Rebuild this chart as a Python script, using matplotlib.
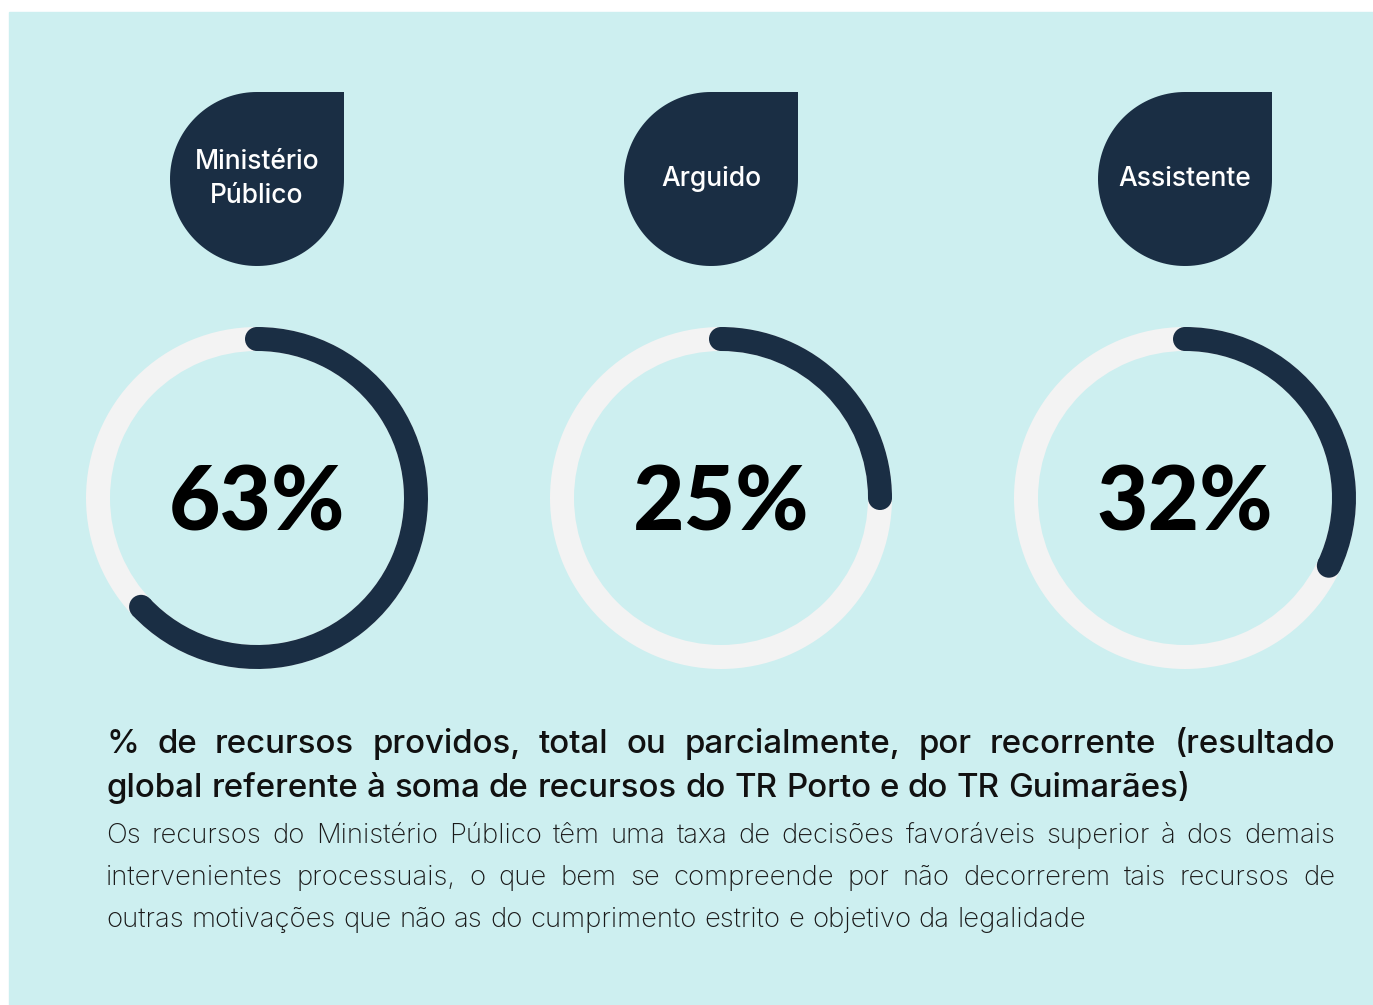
import numpy as np
import matplotlib
matplotlib.use('Agg')
import matplotlib.pyplot as plt
from matplotlib.patches import Wedge, Circle, Polygon, Rectangle

# data
labels = ['Ministério\nPúblico', 'Arguido', 'Assistente']
values = [63, 25, 32]

title_lines = ['% de recursos providos, total ou parcialmente, por recorrente (resultado',
               'global referente à soma de recursos do TR Porto e do TR Guimarães)']
body_lines = ['Os recursos do Ministério Público têm uma taxa de decisões favoráveis superior à dos demais',
              'intervenientes processuais, o que bem se compreende por não decorrerem tais recursos de',
              'outras motivações que não as do cumprimento estrito e objetivo da legalidade']

BG = '#cdeff0'
NAVY = '#1a2e44'
TRACK = '#f3f3f3'

W, H = 1373, 1005
fig = plt.figure(figsize=(W / 100, H / 100), dpi=100)
ax = fig.add_axes([0, 0, 1, 1])
ax.set_xlim(0, W)
ax.set_ylim(H, 0)
ax.axis('off')
ax.add_patch(Rectangle((9, 12), W - 9, H - 12, color=BG, zorder=0))

drop_x = [257, 711, 1185]
ring_x = [257, 721, 1185]
drop_y, drop_r = 179, 87
ring_y, r_out, r_w = 498, 171, 24

for i, (lab, v) in enumerate(zip(labels, values)):
    # teardrop: circle with square top-right corner
    cx = drop_x[i]
    t = np.linspace(0, 1.5 * np.pi, 120)
    pts = [(cx + drop_r * np.cos(a), drop_y + drop_r * np.sin(a)) for a in t]
    pts += [(cx + drop_r, drop_y - drop_r)]
    ax.add_patch(Polygon(pts, closed=True, color=NAVY, lw=0))
    ax.text(cx, drop_y, lab, ha='center', va='center', color='white',
            fontsize=19, fontweight='medium', family='Inter', linespacing=1.4)

    # donut ring (y axis flipped: angles clockwise on screen)
    rx = ring_x[i]
    ax.add_patch(Wedge((rx, ring_y), r_out, 0, 360, width=r_w, color=TRACK, lw=0))
    a0 = -90
    a1 = -90 + v / 100 * 360
    ax.add_patch(Wedge((rx, ring_y), r_out, a0, a1, width=r_w, color=NAVY, lw=0))
    rm = r_out - r_w / 2
    for a in (a0, a1):
        ar = np.deg2rad(a)
        ax.add_patch(Circle((rx + rm * np.cos(ar), ring_y + rm * np.sin(ar)),
                            r_w / 2, color=NAVY, lw=0))
    ax.text(rx, 530, f'{v}%', ha='center', va='baseline', color='black',
            fontsize=64, fontweight='black', family='Lato')

# justified text helper
fig.canvas.draw()
rend = fig.canvas.get_renderer()


def justify(line, y, x0, x1, justified=True, **kw):
    words = line.split(' ')
    arts = [ax.text(0, y, w, va='center', ha='left', **kw) for w in words]
    widths = [a.get_window_extent(renderer=rend).width for a in arts]
    if justified:
        gap = (x1 - x0 - sum(widths)) / (len(words) - 1)
    else:
        sp = ax.text(0, y, 'a a', **kw)
        sp2 = ax.text(0, y, 'aa', **kw)
        gap = sp.get_window_extent(renderer=rend).width - sp2.get_window_extent(renderer=rend).width
        sp.remove()
        sp2.remove()
    x = x0
    for a, w in zip(arts, widths):
        a.set_x(x)
        x += w + gap


X0, X1 = 106, 1335
for j, ln in enumerate(title_lines):
    justify(ln, 744 + j * 44, X0, X1, justified=(j == 0),
            fontsize=23.8, fontweight='medium', family='Inter', color='#111111')
for j, ln in enumerate(body_lines):
    justify(ln, 836 + j * 42, X0, X1, justified=(j < 2),
            fontsize=19.8, fontweight='light', family='Inter', color='#1a1a1a')

fig.savefig('out.png', dpi=100, facecolor='white')
